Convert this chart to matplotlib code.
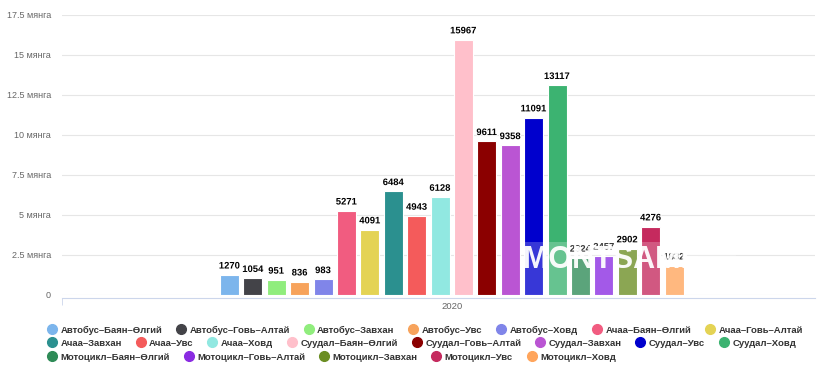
import matplotlib.pyplot as plt
from matplotlib.lines import Line2D
from matplotlib.patches import Rectangle
import matplotlib.patheffects as pe

plt.rcParams['font.family'] = ['Liberation Sans', 'DejaVu Sans']

# series names, values (one category: 2020) and colours
series = ['Автобус–Баян–Өлгий', 'Автобус–Говь–Алтай', 'Автобус–Завхан', 'Автобус–Увс', 'Автобус–Ховд',
          'Ачаа–Баян–Өлгий', 'Ачаа–Говь–Алтай', 'Ачаа–Завхан', 'Ачаа–Увс', 'Ачаа–Ховд',
          'Суудал–Баян–Өлгий', 'Суудал–Говь–Алтай', 'Суудал–Завхан', 'Суудал–Увс', 'Суудал–Ховд',
          'Мотоцикл–Баян–Өлгий', 'Мотоцикл–Говь–Алтай', 'Мотоцикл–Завхан', 'Мотоцикл–Увс', 'Мотоцикл–Ховд']
values = [1270, 1054, 951, 836, 983,
          5271, 4091, 6484, 4943, 6128,
          15967, 9611, 9358, 11091, 13117,
          2324, 2457, 2902, 4276, 1832]
colors = ['#7cb5ec', '#434348', '#90ed7d', '#f7a35c', '#8085e9',
          '#f15c80', '#e4d354', '#2b908f', '#f45b5b', '#91e8e1',
          '#ffc0cb', '#8b0000', '#ba55d3', '#0000cd', '#3cb371',
          '#2e8b57', '#8a2be2', '#6b8e23', '#c52a5e', '#ffa55c']
category = '2020'
yticks = [0, 2500, 5000, 7500, 10000, 12500, 15000, 17500]

W, H = 825, 376
fig = plt.figure(figsize=(W / 100, H / 100), dpi=100)
left, right, top, bottom = 62, 815, 15, 295
ax = fig.add_axes([left / W, 1 - bottom / H, (right - left) / W, (bottom - top) / H])

pitch = 23.4
x0 = 229.5
n = len(values)
xs = list(range(n))
ax.bar(xs, values, width=19 / pitch, color=colors, edgecolor='white', linewidth=0.8, zorder=2)
ax.set_xlim(-(x0 - left) / pitch, (right - x0) / pitch)
ax.set_ylim(0, 17500)

for x, v in zip(xs, values):
    ax.annotate(str(v), (x, v), xytext=(0, 3), textcoords='offset points', ha='center', va='bottom',
                fontsize=6.8, fontweight='bold', color='black', zorder=3,
                path_effects=[pe.withStroke(linewidth=1.5, foreground='white')])

# grid and axes styling
ax.set_yticks(yticks)
ax.set_yticklabels(['0' if t == 0 else f'{t / 1000:g} мянга' for t in yticks])
ax.tick_params(axis='y', length=0, labelsize=6.5, labelcolor='#666666', pad=8)
ax.grid(axis='y', color='#e6e6e6', linewidth=0.8, zorder=0)
ax.set_axisbelow(True)
for s in ['top', 'right', 'left']:
    ax.spines[s].set_visible(False)
ax.spines['bottom'].set_color('#ccd6eb')
ax.spines['bottom'].set_position(('outward', 2))
ax.set_xticks([(n - 1) / 2])
ax.set_xticklabels([category])
ax.tick_params(axis='x', length=0, labelsize=6.8, labelcolor='#666666', pad=3)
ax.set_xticks([ax.get_xlim()[0] + 0.02], minor=True)
ax.tick_params(axis='x', which='minor', length=5, color='#ccd6eb')

# watermark
ax.add_patch(Rectangle((0.615, 0.0), 0.28, 0.19, transform=ax.transAxes, facecolor='white',
                       alpha=0.22, edgecolor='none', zorder=4))
fig.text(612 / W, 1 - 260 / H, 'MONTSAME', fontsize=22, fontweight='bold', color='white',
         ha='center', va='center', alpha=0.95, zorder=5)

# legend in three flowing rows
rows = [range(0, 7), range(7, 15), range(15, 20)]
row_y = [330, 343, 357]
for r, yy in zip(rows, row_y):
    handles = [Line2D([], [], marker='o', linestyle='none', markersize=7, color=colors[i]) for i in r]
    labels = [series[i] for i in r]
    leg = fig.legend(handles, labels, loc='center left', bbox_to_anchor=(48 / W, 1 - yy / H),
                     ncol=len(handles), frameon=False, fontsize=6.8, handlelength=0.8,
                     handletextpad=0.5, columnspacing=1.6, borderpad=0, borderaxespad=0)
    for t in leg.get_texts():
        t.set_fontweight('bold')
        t.set_color('#333333')

fig.savefig('out.png', dpi=100)
